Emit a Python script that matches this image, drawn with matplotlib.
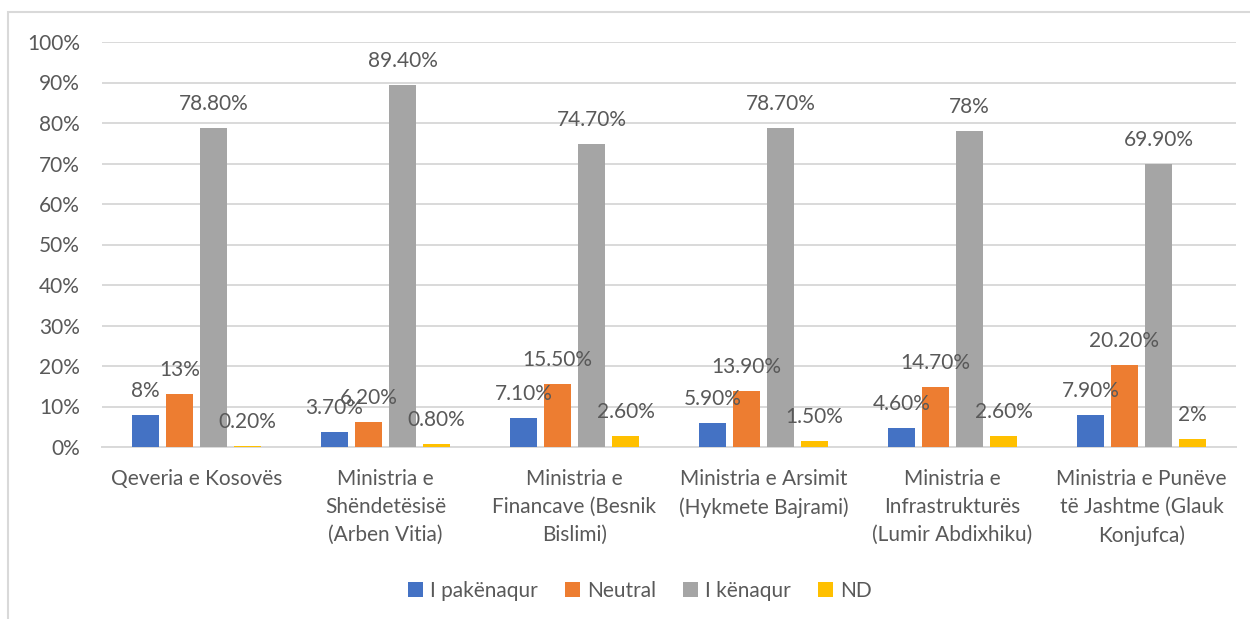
import numpy as np
import matplotlib
matplotlib.use("Agg")
import matplotlib.pyplot as plt
from matplotlib.patches import Rectangle

plt.rcParams['font.family'] = ['Lato', 'DejaVu Sans']

categories = [
    "Qeveria e Kosovës",
    "Ministria e\nShëndetësisë\n(Arben Vitia)",
    "Ministria e\nFinancave (Besnik\nBislimi)",
    "Ministria e Arsimit\n(Hykmete Bajrami)",
    "Ministria e\nInfrastrukturës\n(Lumir Abdixhiku)",
    "Ministria e Punëve\ntë Jashtme (Glauk\nKonjufca)",
]
series_names = ["I pakënaqur", "Neutral", "I kënaqur", "ND"]
pakenaqur = [8, 3.7, 7.1, 5.9, 4.6, 7.9]
neutral = [13, 6.2, 15.5, 13.9, 14.7, 20.2]
kenaqur = [78.8, 89.4, 74.7, 78.7, 78, 69.9]
nd = [0.2, 0.8, 2.6, 1.5, 2.6, 2]
colors = ["#4472C4", "#ED7D31", "#A5A5A5", "#FFC000"]

TXT = "#595959"
GRID = "#D9D9D9"


def fmt(v):
    # Excel "General" style: no decimals for whole numbers
    if float(v).is_integer():
        return f"{int(v)}%"
    return f"{v:.2f}%"


fig = plt.figure(figsize=(12.5, 6.19), dpi=100)
ax = fig.add_axes([102 / 1250, 1 - 447 / 619, 1134 / 1250, 405 / 619])

x = np.arange(len(categories))
pitch = 34 / 189
width = 27 / 189
all_series = [pakenaqur, neutral, kenaqur, nd]

handles = []
for i, (vals, name, c) in enumerate(zip(all_series, series_names, colors)):
    pos = x + (i - 1.5) * pitch
    bars = ax.bar(pos, vals, width, color=c, label=name, zorder=3)
    handles.append(bars)
    for b, v in zip(bars, vals):
        ax.annotate(fmt(v), (b.get_x() + b.get_width() / 2, v),
                    xytext=(0, 24), textcoords="offset pixels",
                    ha="center", va="center", fontsize=15, color=TXT, zorder=4)

ax.set_xlim(-0.5, len(categories) - 0.5)
ax.set_ylim(0, 100)
ax.set_yticks(np.arange(0, 101, 10))
ax.set_yticklabels([f"{t}%" for t in range(0, 101, 10)])
ax.set_xticks(x)
ax.set_xticklabels(categories, linespacing=1.5)
ax.tick_params(axis="y", length=0, pad=16, labelsize=15, labelcolor=TXT)
ax.tick_params(axis="x", length=0, pad=16, labelsize=15, labelcolor=TXT)
ax.grid(axis="y", color=GRID, lw=1.4, zorder=0)
for s in ["top", "right", "left"]:
    ax.spines[s].set_visible(False)
ax.spines["bottom"].set_color(GRID)
ax.spines["bottom"].set_linewidth(1.4)

fig.legend(handles=handles, labels=series_names, loc="center",
           bbox_to_anchor=(640 / 1250, 1 - 591 / 619), ncol=4, frameon=False,
           fontsize=15, labelcolor=TXT, handlelength=0.7, handleheight=0.7,
           handletextpad=0.35, columnspacing=1.3)

# chart area border (left and top edges visible)
fig.patches.append(Rectangle((8 / 1250, -0.1), 1.2, 1 - 12 / 619 + 0.1,
                             transform=fig.transFigure, fill=False,
                             edgecolor=GRID, lw=1.5))

fig.savefig("out.png", dpi=100)
